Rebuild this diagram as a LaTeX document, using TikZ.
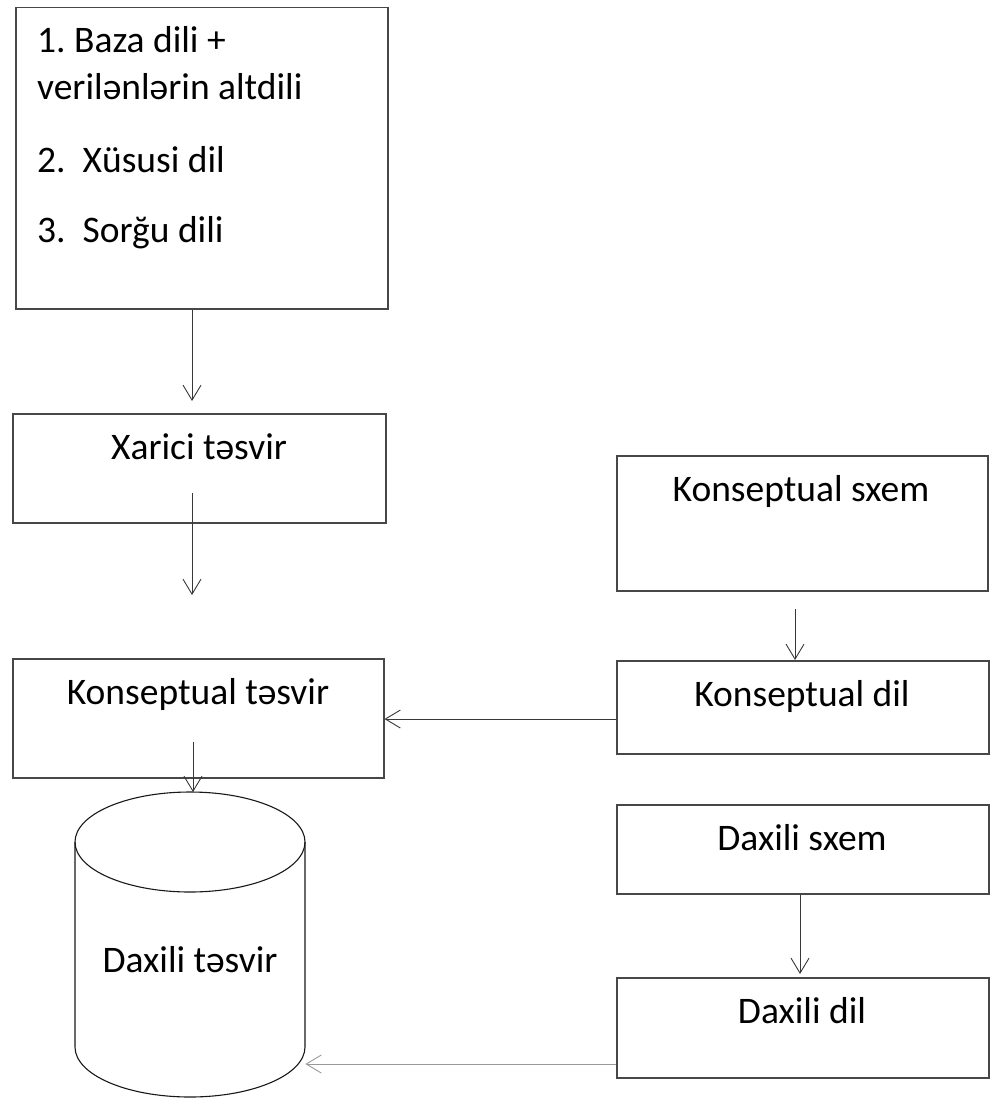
\documentclass[tikz,border=0pt]{standalone}
\usepackage{fontspec}
\setmainfont{Carlito}
\usetikzlibrary{arrows.meta}
\frenchspacing
\begin{document}
\begin{tikzpicture}[x=1pt,y=-1pt,
  box/.style={draw=black!72, line width=1.5pt, rectangle, anchor=north west, inner sep=0pt},
  boxtext/.style={font=\fontsize{37.5}{45}\selectfont, anchor=base, inner sep=0pt},
  arr/.style={draw=black!78, line width=0.9pt, -{Straight Barb[length=15pt,width=18pt]}},
  cylline/.style={draw=black!90, line width=1.1pt}
]
\useasboundingbox (0,0) rectangle (991,1099);

% left column
\node[box, minimum width=372pt, minimum height=301pt] (b1) at (15,7) {};
% the list is anchored at the baseline of its last line
\node[font=\fontsize{37.5}{47}\selectfont, align=left, anchor=base west, inner sep=0pt] (b1t) at (37,242)
  {1. Baza dili +\\verilənlərin altdili\\[26pt]2.\hspace*{17pt}Xüsusi dil\\[22pt]3.\hspace*{17pt}Sorğu dili};

\node[box, minimum width=373pt, minimum height=109pt] (b2) at (12,413) {};
\node[boxtext] (b2t) at (199,459) {Xarici təsvir};

\node[box, minimum width=371pt, minimum height=119pt] (b3) at (12,658) {};
\node[boxtext] (b3t) at (198,704) {Konseptual təsvir};

% cylinder store: outline area as a named node, drawn by hand
\node[draw=none, minimum width=230pt, minimum height=305pt, inner sep=0pt, anchor=north west] (cyl) at (75,792) {};
\draw[cylline] (190,842) ellipse [x radius=115pt, y radius=50pt];
\draw[cylline] (75,842) -- (75,1047) arc[start angle=180, end angle=360, x radius=115pt, y radius=50pt] -- (305,842);
\node[boxtext] (cylt) at (190,972) {Daxili təsvir};

% right column
\node[box, minimum width=371pt, minimum height=135pt] (b4) at (616,455) {};
\node[boxtext] (b4t) at (801,501) {Konseptual sxem};

\node[box, minimum width=372pt, minimum height=93pt] (b5) at (616,660) {};
\node[boxtext] (b5t) at (802,706) {Konseptual dil};

\node[box, minimum width=372pt, minimum height=89pt] (b6) at (616,804) {};
\node[boxtext] (b6t) at (802,850) {Daxili sxem};

\node[box, minimum width=372pt, minimum height=100pt] (b7) at (616,977) {};
\node[boxtext] (b7t) at (802,1023) {Daxili dil};

% connector ends
\coordinate (c1) at (192,401);
\coordinate (c2s) at (192,493);
\coordinate (c2e) at (192,595);
\coordinate (c3) at (193,742);
\coordinate (c4) at (795,609);
\coordinate (c5) at (616,719);
\coordinate (c6) at (800,974);
\coordinate (c7) at (616,1064);

\draw[arr] (b1.south -| c1) -- (c1);
\draw[arr] (c2s) -- (c2e);
\draw[arr] (c3) -- (c3 |- cyl.north);
\draw[arr] (c4) -- (c4 |- b5.north);
\draw[arr] (c5) -- (c5 -| b3.east);
\draw[arr] (b6.south -| c6) -- (c6);
\draw[arr, draw=black!40] (c7) -- (c7 -| cyl.east);
\end{tikzpicture}
\end{document}
